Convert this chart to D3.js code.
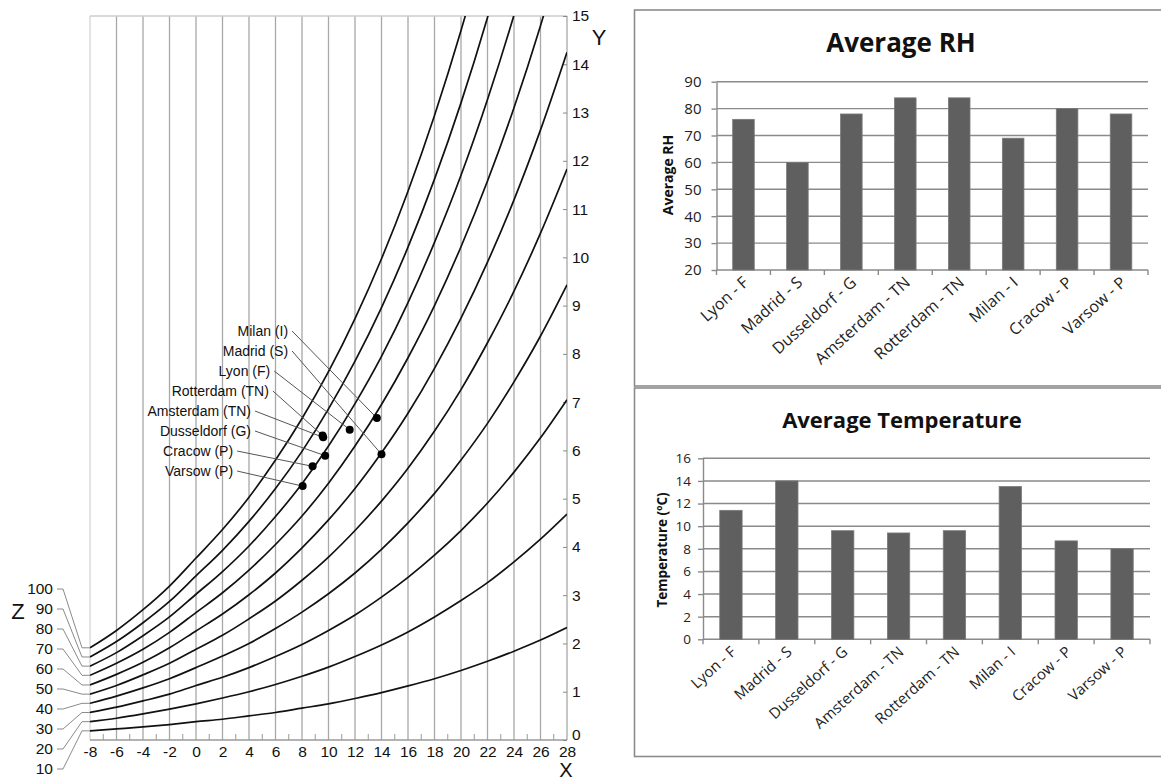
<!DOCTYPE html>
<html>
<head>
<meta charset="utf-8">
<script src="https://cdn.jsdelivr.net/npm/d3@7"></script>
<style>
  body { margin: 0; background: #fff; }
  svg { display: block; }
</style>
</head>
<body>
<div id="chart"></div>
<script>
// ---- psychrometric chart data: humidity ratio (Y) for each temperature (X) ----
var temps = [-8, -6, -4, -2, 0, 2, 4, 6, 8, 10, 12, 14, 16, 18, 20, 22, 24, 26, 28];
var rhLevels = [10, 20, 30, 40, 50, 60, 70, 80, 90, 100];
var rh10  = [0.19, 0.23, 0.27, 0.32, 0.38, 0.43, 0.50, 0.57, 0.66, 0.75, 0.86, 0.98, 1.12, 1.27, 1.44, 1.63, 1.84, 2.07, 2.33];
var rh20  = [0.38, 0.45, 0.54, 0.64, 0.75, 0.87, 1.00, 1.15, 1.32, 1.51, 1.73, 1.97, 2.24, 2.55, 2.89, 3.26, 3.69, 4.16, 4.68];
var rh30  = [0.57, 0.68, 0.81, 0.95, 1.13, 1.30, 1.50, 1.73, 1.98, 2.27, 2.59, 2.96, 3.37, 3.83, 4.34, 4.91, 5.55, 6.26, 7.05];
var rh40  = [0.76, 0.91, 1.08, 1.27, 1.50, 1.74, 2.00, 2.31, 2.65, 3.03, 3.46, 3.95, 4.50, 5.11, 5.80, 6.56, 7.42, 8.37, 9.43];
var rh50  = [0.95, 1.13, 1.35, 1.59, 1.88, 2.17, 2.51, 2.88, 3.31, 3.79, 4.34, 4.95, 5.63, 6.40, 7.26, 8.23, 9.30, 10.50, 11.83];
var rh60  = [1.14, 1.36, 1.61, 1.91, 2.26, 2.61, 3.01, 3.46, 3.98, 4.56, 5.21, 5.95, 6.77, 7.70, 8.74, 9.90, 11.19, 12.64, 14.25];
var rh70  = [1.34, 1.59, 1.88, 2.23, 2.64, 3.05, 3.52, 4.05, 4.64, 5.32, 6.09, 6.95, 7.92, 9.00, 10.22, 11.58, 13.10, 14.80, 16.69];
var rh80  = [1.53, 1.81, 2.16, 2.55, 3.02, 3.49, 4.02, 4.63, 5.31, 6.09, 6.97, 7.95, 9.06, 10.31, 11.70, 13.27, 15.02, 16.97, 19.15];
var rh90  = [1.72, 2.04, 2.43, 2.87, 3.40, 3.93, 4.53, 5.21, 5.98, 6.86, 7.85, 8.96, 10.21, 11.62, 13.20, 14.97, 16.94, 19.16, 21.63];
var rh100 = [1.91, 2.27, 2.70, 3.19, 3.77, 4.36, 5.03, 5.80, 6.66, 7.63, 8.73, 9.97, 11.37, 12.94, 14.70, 16.67, 18.88, 21.36, 24.12];
var xTicks = [-8, -6, -4, -2, 0, 2, 4, 6, 8, 10, 12, 14, 16, 18, 20, 22, 24, 26, 28];
var yTicks = [0, 1, 2, 3, 4, 5, 6, 7, 8, 9, 10, 11, 12, 13, 14, 15];

// ---- city points on the chart ----
var pointLabels = ["Lyon (F)", "Madrid (S)", "Dusseldorf (G)", "Amsterdam (TN)", "Rotterdam (TN)", "Milan (I)", "Cracow (P)", "Varsow (P)"];
var pointT = [11.6, 14.0, 9.75, 9.6, 9.55, 13.65, 8.8, 8.05];
var pointW = [6.43, 5.92, 5.89, 6.27, 6.31, 6.67, 5.67, 5.26];

// ---- bar charts ----
var cities = ["Lyon - F", "Madrid - S", "Dusseldorf - G", "Amsterdam - TN", "Rotterdam - TN", "Milan - I", "Cracow - P", "Varsow - P"];
var avgRH = [76, 60, 78, 84, 84, 69, 80, 78];
var avgTemp = [11.4, 14.0, 9.6, 9.4, 9.6, 13.5, 8.7, 8.0];
var rhTicks = [20, 30, 40, 50, 60, 70, 80, 90];
var tempTicks = [0, 2, 4, 6, 8, 10, 12, 14, 16];

var curveTable = [rh10, rh20, rh30, rh40, rh50, rh60, rh70, rh80, rh90, rh100].map(function (vals, i) {
  return { rh: rhLevels[i], pts: vals.map(function (v, j) { return [temps[j], v]; }) };
});

var svg = d3.select('#chart').append('svg')
  .attr('width', 1161)
  .attr('height', 782);

// ================= left: psychrometric chart =================
var x = d3.scaleLinear().domain([-8, 28]).range([90, 567]);
var y = d3.scaleLinear().domain([0, 15]).range([740, 16]);
var sans = 'Liberation Sans, Arial, sans-serif';
var plain = function (d) { return String(d); };   // keep a plain hyphen for negatives

var left = svg.append('g');

left.append('clipPath').attr('id', 'plotclip')
  .append('rect')
  .attr('x', x(-8)).attr('y', y(15))
  .attr('width', x(28) - x(-8)).attr('height', y(0) - y(15));

// vertical grid
left.selectAll('line.vgrid').data(xTicks).enter().append('line')
  .attr('class', 'vgrid')
  .attr('x1', function (d) { return x(d); })
  .attr('x2', function (d) { return x(d); })
  .attr('y1', y(15))
  .attr('y2', y(0))
  .attr('stroke', function (d) { return d == -8 ? '#d6d6d6' : (d == 28 ? '#c6c6c6' : '#a8a8a8'); })
  .attr('stroke-width', function (d) { return d == 28 ? 2 : 1.3; });

// top border and bottom axis line
left.append('line')
  .attr('x1', x(-8)).attr('x2', x(28)).attr('y1', y(15)).attr('y2', y(15))
  .attr('stroke', '#cccccc').attr('stroke-width', 1.5);
left.append('line')
  .attr('x1', x(-8)).attr('x2', x(28)).attr('y1', y(0)).attr('y2', y(0))
  .attr('stroke', '#9a9a9a').attr('stroke-width', 1.5);

// minor ticks at odd temperatures
left.selectAll('line.minor').data(d3.range(-7, 28, 2)).enter().append('line')
  .attr('x1', function (d) { return x(d); })
  .attr('x2', function (d) { return x(d); })
  .attr('y1', y(0))
  .attr('y2', y(0) - 6)
  .attr('stroke', '#9a9a9a').attr('stroke-width', 1);

// x axis labels
var xAxis = left.append('g')
  .attr('transform', 'translate(0,' + y(0) + ')')
  .call(d3.axisBottom(x).tickValues(xTicks).tickFormat(plain).tickSize(0).tickPadding(6));
xAxis.select('.domain').remove();
xAxis.selectAll('text').attr('font-family', sans).attr('font-size', 15.5).attr('fill', '#111');

// y axis on the right, ticks pointing inward
var yAxis = left.append('g')
  .attr('transform', 'translate(' + x(28) + ',0)')
  .call(d3.axisRight(y).tickValues(yTicks).tickFormat(plain).tickSizeInner(-4).tickSizeOuter(0).tickPadding(5));
yAxis.select('.domain').remove();
yAxis.selectAll('line').attr('stroke', '#888');
yAxis.selectAll('text').attr('font-family', sans).attr('font-size', 15.5).attr('fill', '#111')
  .attr('dy', function (d) { return d == 0 ? '-0.05em' : '0.32em'; });

// RH curves
var line = d3.line()
  .x(function (d) { return x(d[0]); })
  .y(function (d) { return y(d[1]); })
  .curve(d3.curveMonotoneX);

left.append('g').attr('clip-path', 'url(#plotclip)')
  .selectAll('path').data(curveTable).enter().append('path')
  .attr('d', function (d) { return line(d.pts); })
  .attr('fill', 'none')
  .attr('stroke', '#111')
  .attr('stroke-width', 1.7);

// Z labels with leader lines to the start of each curve
var zg = left.append('g');
curveTable.forEach(function (c, i) {
  var ly = 769 - i * 20;
  zg.append('text')
    .attr('x', 53).attr('y', ly).attr('dy', '0.35em')
    .attr('text-anchor', 'end')
    .attr('font-family', sans).attr('font-size', 15.5).attr('fill', '#111')
    .text(c.rh);
  zg.append('path')
    .attr('d', 'M57,' + ly + 'H63L82,' + y(c.pts[0][1]) + 'H' + x(-8))
    .attr('fill', 'none').attr('stroke', '#8a8a8a').attr('stroke-width', 1);
});

left.append('text').attr('x', 18).attr('y', 611).attr('dy', '0.35em')
  .attr('text-anchor', 'middle').attr('font-family', sans).attr('font-size', 22).attr('fill', '#111').text('Z');
left.append('text').attr('x', 566).attr('y', 770).attr('dy', '0.35em')
  .attr('text-anchor', 'middle').attr('font-family', sans).attr('font-size', 20).attr('fill', '#111').text('X');
left.append('text').attr('x', 599).attr('y', 37).attr('dy', '0.35em')
  .attr('text-anchor', 'middle').attr('font-family', sans).attr('font-size', 22).attr('fill', '#111').text('Y');

// city labels: row from the top and how far left they sit (in chart units)
var labelRow = [2, 1, 5, 4, 3, 0, 6, 7];
var rowEndX = [6.95, 6.95, 5.6, 5.5, 4.15, 4.15, 2.8, 2.8];
var pg = left.append('g');
pointLabels.forEach(function (name, i) {
  var r = labelRow[i];
  var ty = 331 + r * 20;
  var tx = x(rowEndX[r]);
  pg.append('text')
    .attr('x', tx).attr('y', ty).attr('dy', '0.35em')
    .attr('text-anchor', 'end')
    .attr('font-family', sans).attr('font-size', 14).attr('fill', '#111')
    .text(name);
  pg.append('line')
    .attr('x1', tx + 4).attr('y1', ty)
    .attr('x2', x(pointT[i])).attr('y2', y(pointW[i]))
    .attr('stroke', '#555').attr('stroke-width', 1);
});
pg.selectAll('circle').data(pointT).enter().append('circle')
  .attr('cx', function (d) { return x(d); })
  .attr('cy', function (d, i) { return y(pointW[i]); })
  .attr('r', 4)
  .attr('fill', '#000');

// ================= right: bar charts =================
var office = 'Open Sans, Lato, sans-serif';

function barChart(cfg) {
  var g = svg.append('g');
  g.append('rect')
    .attr('x', 634.5).attr('y', cfg.boxTop)
    .attr('width', 700).attr('height', cfg.boxBottom - cfg.boxTop)
    .attr('fill', 'none').attr('stroke', '#8c8c8c').attr('stroke-width', 1.6);

  var yb = d3.scaleLinear().domain(cfg.domain).range([cfg.bottom, cfg.top]);
  var xb = d3.scaleBand().domain(cities).range([cfg.left, cfg.right])
    .paddingInner(0.6).paddingOuter(0.3);
  var step = xb.step();

  // gridlines
  g.selectAll('line.grid').data(cfg.ticks).enter().append('line')
    .attr('x1', cfg.left).attr('x2', cfg.right)
    .attr('y1', function (d) { return yb(d); })
    .attr('y2', function (d) { return yb(d); })
    .attr('stroke', '#8a8a8a').attr('stroke-width', 1.4);

  var ya = g.append('g')
    .attr('transform', 'translate(' + cfg.left + ',0)')
    .call(d3.axisLeft(yb).tickValues(cfg.ticks).tickSizeInner(5).tickSizeOuter(0).tickPadding(cfg.pad));
  ya.selectAll('line').attr('stroke', '#8a8a8a').attr('stroke-width', 1.4);
  ya.select('.domain').attr('stroke', '#8a8a8a').attr('stroke-width', 1.4);
  ya.selectAll('text').attr('font-family', office).attr('font-size', cfg.tickFont).attr('fill', '#222');

  // category boundary ticks
  g.selectAll('line.ctick').data(d3.range(cities.length + 1)).enter().append('line')
    .attr('x1', function (d) { return cfg.left + d * step; })
    .attr('x2', function (d) { return cfg.left + d * step; })
    .attr('y1', cfg.bottom).attr('y2', cfg.bottom + 5)
    .attr('stroke', '#8a8a8a').attr('stroke-width', 1.4);

  g.selectAll('rect.bar').data(cfg.values).enter().append('rect')
    .attr('x', function (d, i) { return xb(cities[i]); })
    .attr('width', xb.bandwidth())
    .attr('y', function (d) { return yb(d); })
    .attr('height', function (d) { return yb(cfg.domain[0]) - yb(d); })
    .attr('fill', '#5f5f5f')
    .attr('stroke', '#7a7a7a').attr('stroke-width', 0.8);

  g.selectAll('text.cat').data(cities).enter().append('text')
    .attr('transform', function (d) {
      return 'translate(' + (xb(d) + xb.bandwidth() / 2 + 6) + ',' + (cfg.bottom + 14) + ') rotate(-42)';
    })
    .attr('text-anchor', 'end')
    .attr('font-family', office).attr('font-size', cfg.catFont).attr('fill', '#222')
    .text(function (d) { return d; });

  g.append('text')
    .attr('x', cfg.titleX).attr('y', cfg.titleY).attr('dy', '0.35em')
    .attr('text-anchor', 'middle')
    .attr('font-family', office).attr('font-weight', 'bold').attr('font-size', cfg.titleFont).attr('fill', '#111')
    .text(cfg.title);

  g.append('text')
    .attr('transform', 'translate(' + cfg.ytX + ',' + cfg.ytY + ') rotate(-90)')
    .attr('dy', '0.35em')
    .attr('text-anchor', 'middle')
    .attr('font-family', office).attr('font-weight', 'bold').attr('font-size', cfg.ytFont).attr('fill', '#111')
    .text(cfg.yTitle);
}

barChart({
  boxTop: 10, boxBottom: 386,
  left: 716.5, right: 1148, top: 81.7, bottom: 270,
  domain: [20, 90], ticks: rhTicks, values: avgRH,
  pad: 10, tickFont: 15, catFont: 16,
  title: 'Average RH', titleX: 901, titleY: 43, titleFont: 26,
  yTitle: 'Average RH', ytX: 668, ytY: 175, ytFont: 14
});

barChart({
  boxTop: 388, boxBottom: 756.5,
  left: 703, right: 1150, top: 458.3, bottom: 639.3,
  domain: [0, 16], ticks: tempTicks, values: avgTemp,
  pad: 7, tickFont: 13.5, catFont: 15,
  title: 'Average Temperature', titleX: 902, titleY: 420, titleFont: 22,
  yTitle: 'Temperature (ºC)', ytX: 662.5, ytY: 550, ytFont: 13.5
});
</script>
</body>
</html>
